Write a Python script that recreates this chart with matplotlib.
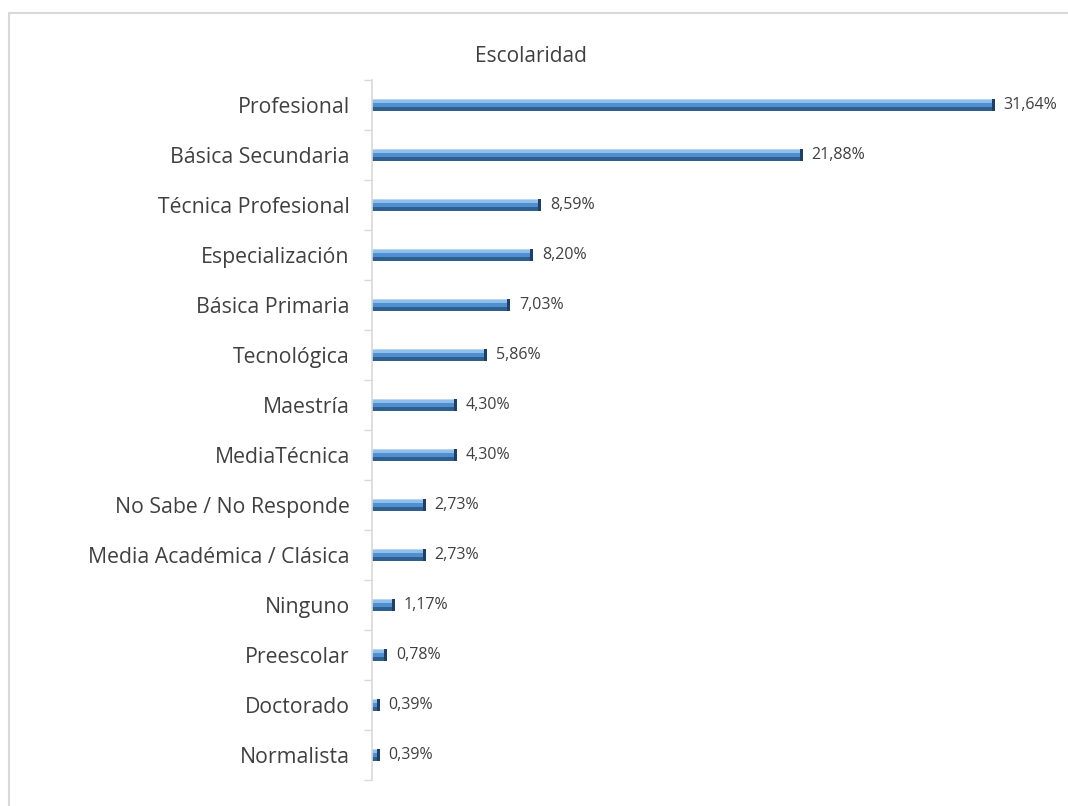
import matplotlib.pyplot as plt
from matplotlib.patches import Rectangle

categorias = ['Profesional', 'Básica Secundaria', 'Técnica Profesional', 'Especialización',
              'Básica Primaria', 'Tecnológica', 'Maestría', 'MediaTécnica',
              'No Sabe / No Responde', 'Media Académica / Clásica', 'Ninguno',
              'Preescolar', 'Doctorado', 'Normalista']
porcentajes = [31.64, 21.88, 8.59, 8.20, 7.03, 5.86, 4.30, 4.30, 2.73, 2.73, 1.17, 0.78, 0.39, 0.39]
etiquetas = ['31,64%', '21,88%', '8,59%', '8,20%', '7,03%', '5,86%', '4,30%', '4,30%',
             '2,73%', '2,73%', '1,17%', '0,78%', '0,39%', '0,39%']

plt.rcParams['font.family'] = ['Open Sans', 'DejaVu Sans']

fig = plt.figure(figsize=(10.68, 8.06), dpi=100)
# chart area border
fig.patches.append(Rectangle((9 / 1068, -0.1), 1.2, 1 - 13 / 806 + 0.1, transform=fig.transFigure,
                             fill=False, edgecolor='#d9d9d9', linewidth=1.5))

ax = fig.add_axes([372 / 1068, 26 / 806, 689 / 1068, 700 / 806])
y = list(range(len(categorias)))
h = 0.25

# 3D-looking bars: base, highlight, shadow, end cap
ax.barh(y, porcentajes, height=h, color='#4f8fcf', edgecolor='none')
ax.barh([v - h * 0.28 for v in y], porcentajes, height=h * 0.22, color='#8fc0ec', edgecolor='none')
ax.barh([v - h * 0.44 for v in y], porcentajes, height=h * 0.12, color='#b9d6f0', edgecolor='none')
ax.barh([v + h * 0.32 for v in y], porcentajes, height=h * 0.36, color='#2f5f8f', edgecolor='none')
cap = [min(0.15, p * 0.5) for p in porcentajes]
ax.barh(y, cap, left=[p - c for p, c in zip(porcentajes, cap)], height=h, color='#1f3f66', edgecolor='none')

for yi, p, t in zip(y, porcentajes, etiquetas):
    ax.text(p + 0.45, yi, t, va='center', ha='left', fontsize=11.5, color='#404040')

ax.set_xlim(0, 35)
ax.set_ylim(len(categorias) - 0.5, -0.5)
ax.set_yticks(y)
ax.set_yticklabels(categorias, fontsize=15.3, color='#404040')
ax.set_yticks([v + 0.5 for v in range(-1, len(categorias))], minor=True)
ax.tick_params(axis='y', which='major', length=0, pad=16)
ax.tick_params(axis='y', which='minor', length=6, color='#d9d9d9', width=1)
ax.set_xticks([])
for s in ['top', 'right', 'bottom']:
    ax.spines[s].set_visible(False)
ax.spines['left'].set_color('#d9d9d9')
ax.spines['left'].set_linewidth(1.2)

fig.text(531 / 1068, 1 - 56 / 806, 'Escolaridad', ha='center', va='center', fontsize=15, color='#404040')

fig.savefig('out.png', dpi=100)
